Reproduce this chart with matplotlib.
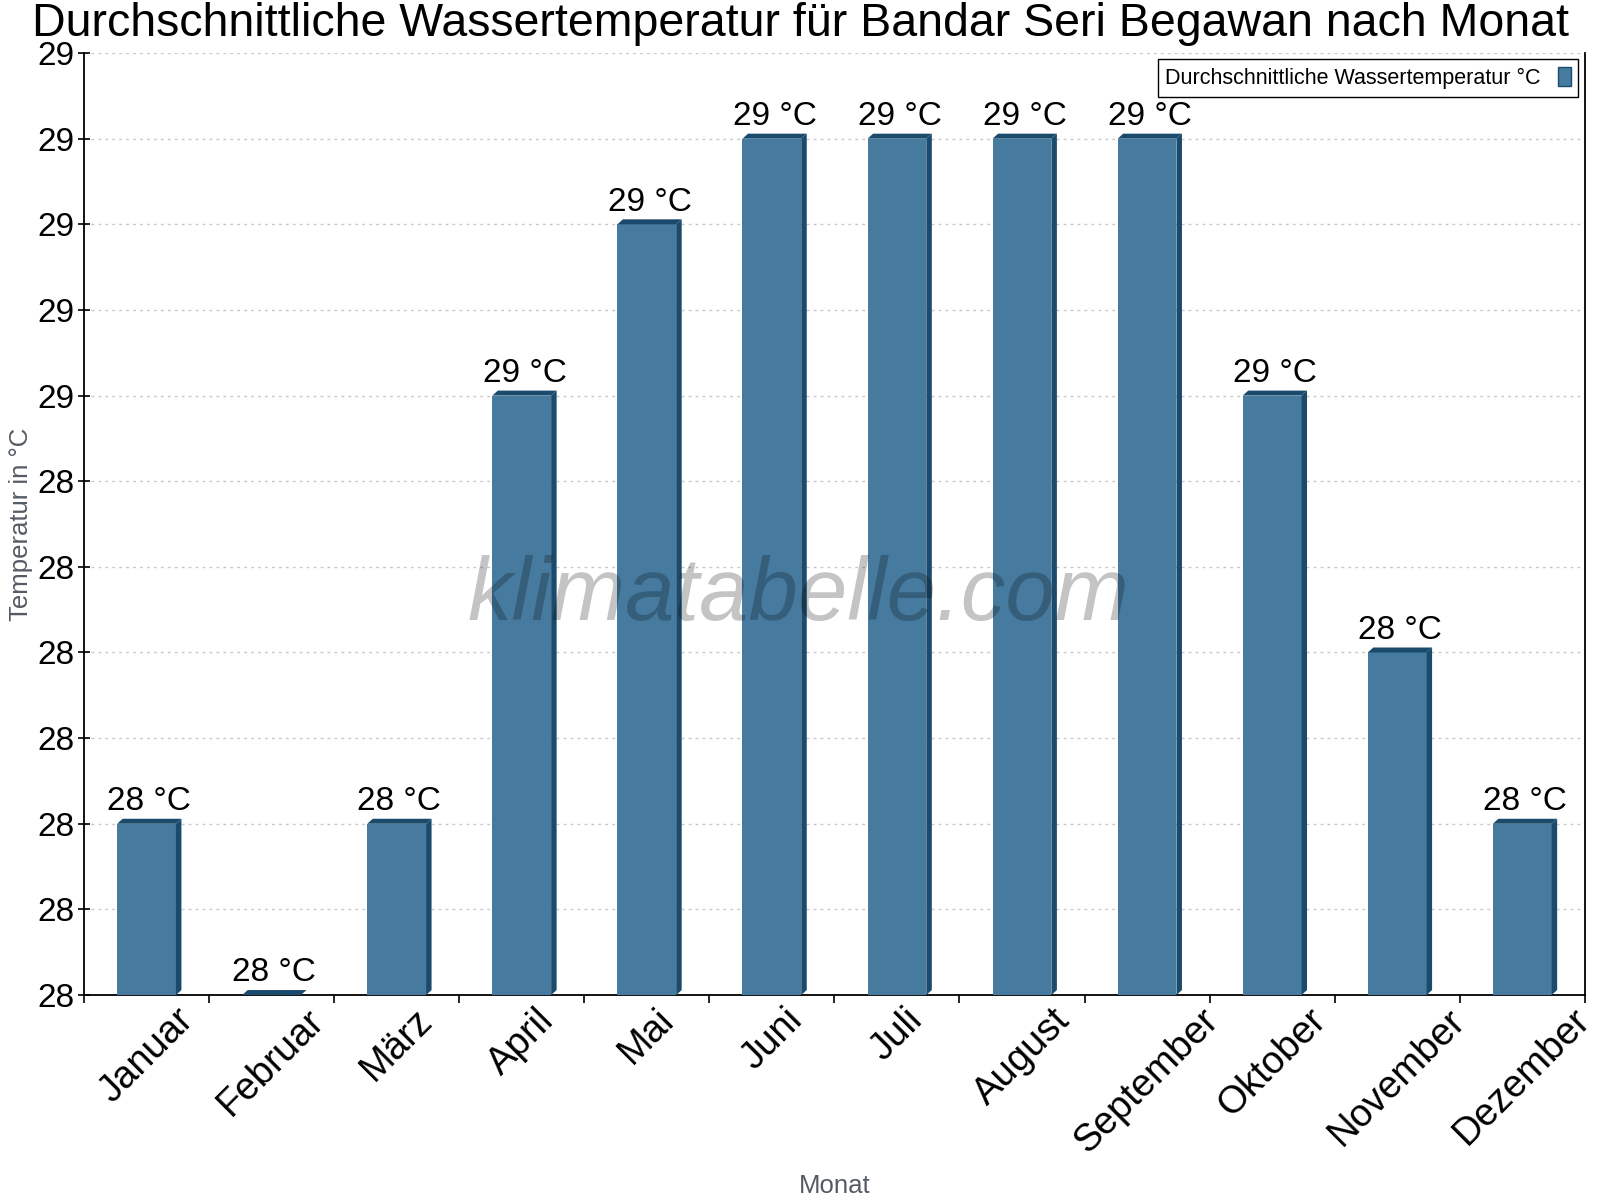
import matplotlib
matplotlib.use("Agg")
import matplotlib.pyplot as plt
from matplotlib.patches import Polygon, Rectangle

plt.rcParams['font.family'] = ['Liberation Sans', 'DejaVu Sans']

months = ["Januar", "Februar", "März", "April", "Mai", "Juni", "Juli",
          "August", "September", "Oktober", "November", "Dezember"]
water_temp = [28.1, 27.9, 28.1, 28.6, 28.8, 28.9, 28.9, 28.9, 28.9, 28.6, 28.3, 28.1]
ytick_values = [27.9, 28.0, 28.1, 28.2, 28.3, 28.4, 28.5, 28.6, 28.7, 28.8, 28.9, 29.0]
ytick_labels = ["28", "28", "28", "28", "28", "28", "28", "29", "29", "29", "29", "29"]

face_color = "#467b9f"
dark_color = "#1b4b6c"
y_min, y_max = 27.9, 29.0

fig = plt.figure(figsize=(16, 12), dpi=100)
ax = fig.add_axes([0.0525, 0.1708, 0.938, 0.785])
ax.set_xlim(-0.5, len(months) - 0.5)
ax.set_ylim(y_min, y_max)

# pixel offsets for the fake 3d look, converted to data units
ax_w_px = 0.938 * 1600
ax_h_px = 0.785 * 1200
dx = 5.5 * (len(months) / ax_w_px)
dy = 5.0 * ((y_max - y_min) / ax_h_px)
half = 0.235

for i, v in enumerate(water_temp):
    x0, x1 = i - half, i + half
    ax.add_patch(Rectangle((x0, y_min), x1 - x0, v - y_min, facecolor=face_color,
                           edgecolor="none", zorder=3))
    ax.add_patch(Polygon([(x1, y_min), (x1 + dx, y_min + dy), (x1 + dx, v + dy), (x1, v)],
                         closed=True, facecolor=dark_color, edgecolor="none", zorder=3))
    ax.add_patch(Polygon([(x0, v), (x0 + dx, v + dy), (x1 + dx, v + dy), (x1, v)],
                         closed=True, facecolor=dark_color, edgecolor="none", zorder=3))
    ax.text(i + dx / 2, v + dy + 0.002, f"{round(v)} °C", ha="center", va="bottom",
            fontsize=24, color="black", zorder=5)

ax.set_yticks(ytick_values)
ax.set_yticklabels(ytick_labels, fontsize=24)
ax.tick_params(axis="y", direction="inout", length=9, width=1.2, pad=2)

ax.set_xticks(range(len(months)))
ax.set_xticklabels(months, rotation=45, fontsize=27.5)
ax.tick_params(axis="x", which="major", length=0, pad=5)
ax.set_xticks([i - 0.5 for i in range(len(months) + 1)], minor=True)
ax.tick_params(axis="x", which="minor", direction="out", length=6, width=1.2)

ax.grid(axis="y", linestyle=(0, (2, 3)), color="#c8c8c8", linewidth=1, zorder=0)
ax.set_axisbelow(True)

ax.spines["top"].set_visible(False)
for s in ["left", "bottom", "right"]:
    ax.spines[s].set_linewidth(1.3)
    ax.spines[s].set_color("black")

ax.set_ylabel("Temperatur in °C", fontsize=18.5, color="#555b64")
ax.set_xlabel("Monat", fontsize=18.5, color="#555b64")
ax.yaxis.set_label_coords(-0.034, 0.5)
ax.xaxis.set_label_coords(0.5, -0.19)

fig.suptitle("Durchschnittliche Wassertemperatur für Bandar Seri Begawan nach Monat",
             fontsize=33.5, x=0.5, y=0.998, va="top")

handle = Rectangle((0, 0), 1, 1, facecolor=face_color, edgecolor=dark_color, linewidth=1)
leg = ax.legend([handle], ["Durchschnittliche Wassertemperatur °C"], loc="upper right",
                fontsize=15.5, markerfirst=False, fancybox=False, framealpha=1,
                edgecolor="black", borderaxespad=0.3, handlelength=0.6,
                handleheight=1.0, handletextpad=0.8, borderpad=0.35)
leg.get_frame().set_linewidth(1)

ax.text(0.476, 0.4225, "klimatabelle.com", transform=ax.transAxes, ha="center", va="center",
        fontsize=64, style="italic", color="black", alpha=0.23, zorder=6)

fig.savefig("out.png", dpi=100)
